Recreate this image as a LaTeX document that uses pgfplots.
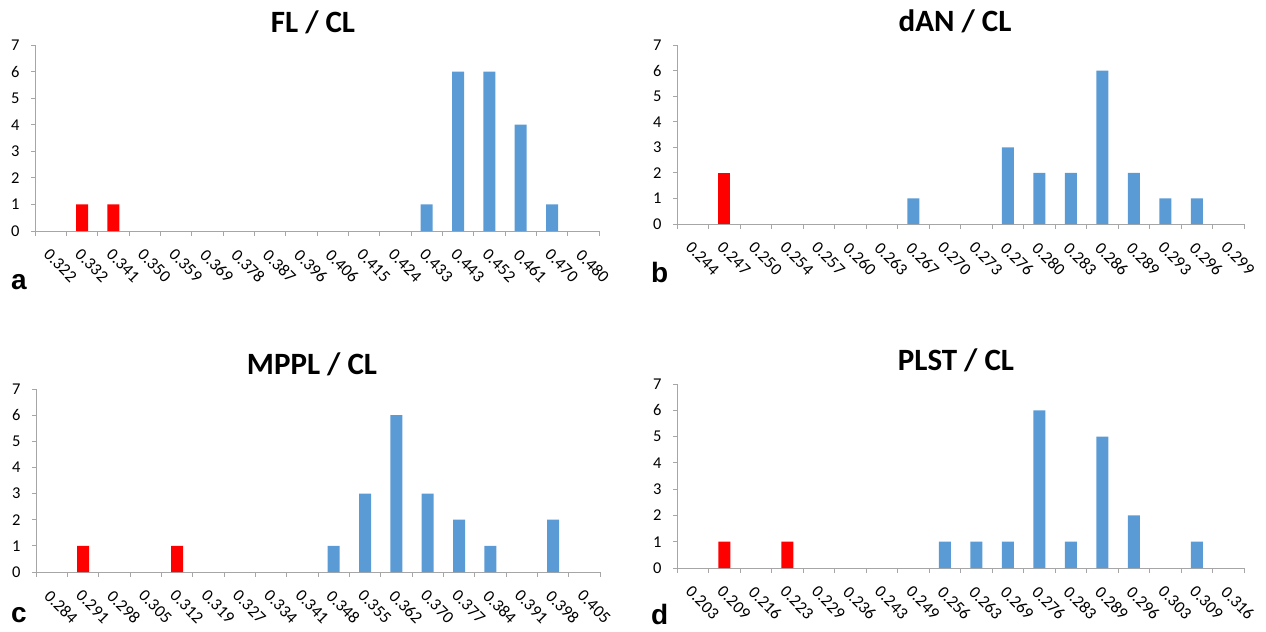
\documentclass[border=0pt]{standalone}
\usepackage{pgfplots}
\pgfplotsset{compat=1.18}
\usepackage{fontspec}
\setmainfont{Carlito}
\newfontfamily\letterfont{Liberation Sans}
\definecolor{barblue}{HTML}{5B9BD5}
\definecolor{barred}{HTML}{FF0000}
\definecolor{axisgray}{HTML}{A6A6A6}
\pgfplotsset{
  hist/.style={
    scale only axis, width=564bp, height=186bp,
    anchor=south west,
    xmin=-0.5, xmax=17.5, ymin=0, ymax=7,
    axis x line*=bottom, axis y line*=left,
    axis line style={draw=axisgray, line width=1bp},
    tick align=outside,
    major tick length=4bp, minor tick length=5bp,
    tick style={draw=axisgray, line width=1bp},
    major x tick style={draw=none},
    xtick={0,...,17},
    minor xtick={-0.5,0.5,...,17.5},
    ytick={0,...,7},
    /pgf/number format/assume math mode=true,
    yticklabel style={font=\fontsize{16.5bp}{19bp}\selectfont, xshift=-8bp},
    xticklabel style={font=\fontsize{17bp}{20bp}\selectfont, yshift=-8bp, rotate=-45, anchor=north west},
    clip=false,
  },
  redbar/.style={ybar, bar width=12bp, bar shift=0pt, fill=barred, draw=none},
  bluebar/.style={ybar, bar width=12bp, bar shift=0pt, fill=barblue, draw=none},
}
\begin{document}
\begin{tikzpicture}[x=1bp,y=1bp]
\useasboundingbox (0,0) rectangle (1266,-632);
% Panel a
\begin{axis}[hist, at={(35bp,-231bp)}, width=564bp, height=186bp,
  xticklabels={0.322,0.332,0.341,0.350,0.359,0.369,0.378,0.387,0.396,0.406,0.415,0.424,0.433,0.443,0.452,0.461,0.470,0.480}]
\addplot[redbar] coordinates {(1,1) (2,1)};
\addplot[bluebar] coordinates {(12,1) (13,6) (14,6) (15,4) (16,1)};
\end{axis}
% Panel b
\begin{axis}[hist, at={(677bp,-224bp)}, width=567bp, height=179bp,
  xticklabels={0.244,0.247,0.250,0.254,0.257,0.260,0.263,0.267,0.270,0.273,0.276,0.280,0.283,0.286,0.289,0.293,0.296,0.299}]
\addplot[redbar] coordinates {(1,2)};
\addplot[bluebar] coordinates {(7,1) (10,3) (11,2) (12,2) (13,6) (14,2) (15,1) (16,1)};
\end{axis}
% Panel c
\begin{axis}[hist, at={(36bp,-572bp)}, width=564bp, height=183bp,
  xticklabels={0.284,0.291,0.298,0.305,0.312,0.319,0.327,0.334,0.341,0.348,0.355,0.362,0.370,0.377,0.384,0.391,0.398,0.405}]
\addplot[redbar] coordinates {(1,1) (4,1)};
\addplot[bluebar] coordinates {(9,1) (10,3) (11,6) (12,3) (13,2) (14,1) (16,2)};
\end{axis}
% Panel d
\begin{axis}[hist, at={(677bp,-568bp)}, width=567bp, height=184bp,
  xticklabels={0.203,0.209,0.216,0.223,0.229,0.236,0.243,0.249,0.256,0.263,0.269,0.276,0.283,0.289,0.296,0.303,0.309,0.316}]
\addplot[redbar] coordinates {(1,1) (3,1)};
\addplot[bluebar] coordinates {(8,1) (9,1) (10,1) (11,6) (12,1) (13,5) (14,2) (16,1)};
\end{axis}
% Titles
\node[anchor=base, inner sep=0] at (313,-33) {\fontsize{31bp}{36bp}\selectfont\bfseries FL / CL};
\node[anchor=base, inner sep=0] at (955,-32) {\fontsize{31bp}{36bp}\selectfont\bfseries dAN / CL};
\node[anchor=base, inner sep=0] at (312,-375) {\fontsize{31bp}{36bp}\selectfont\bfseries MPPL / CL};
\node[anchor=base, inner sep=0] at (956,-371) {\fontsize{31bp}{36bp}\selectfont\bfseries PLST / CL};
% Panel letters
\node[anchor=base west, inner sep=0] at (11,-290) {\letterfont\bfseries\fontsize{28bp}{32bp}\selectfont a};
\node[anchor=base west, inner sep=0] at (651,-283) {\letterfont\bfseries\fontsize{28bp}{32bp}\selectfont b};
\node[anchor=base west, inner sep=0] at (11,-622) {\letterfont\bfseries\fontsize{28bp}{32bp}\selectfont c};
\node[anchor=base west, inner sep=0] at (651,-624) {\letterfont\bfseries\fontsize{28bp}{32bp}\selectfont d};
\end{tikzpicture}
\end{document}
